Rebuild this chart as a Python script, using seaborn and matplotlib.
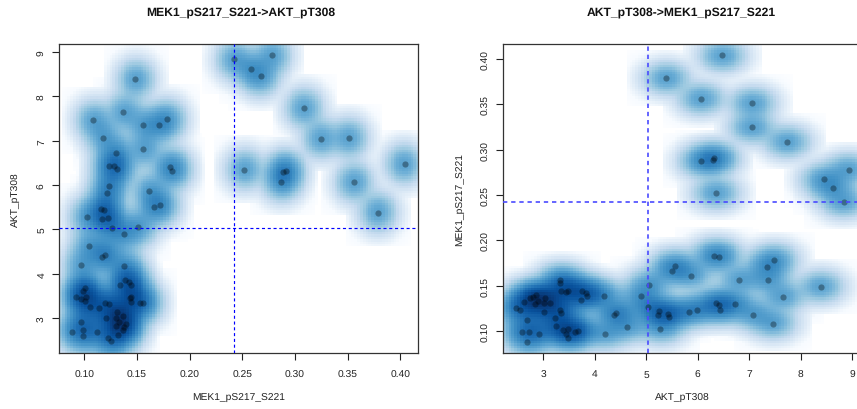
import numpy as np
import pandas as pd
import matplotlib
matplotlib.use('Agg')
import matplotlib.pyplot as plt
from matplotlib.colors import LinearSegmentedColormap
import seaborn as sns

mek = [0.2424, 0.258, 0.2674, 0.278, 0.3085, 0.3247, 0.3513, 0.404, 0.3563, 0.379,
       0.252, 0.289, 0.291, 0.287, 0.148, 0.137, 0.108, 0.156, 0.171, 0.178,
       0.118, 0.156, 0.130, 0.123, 0.128, 0.131, 0.181, 0.183, 0.123, 0.121,
       0.161, 0.166, 0.172, 0.1155, 0.119, 0.102, 0.117, 0.122, 0.1266, 0.151,
       0.138, 0.104, 0.12, 0.117, 0.0965, 0.138, 0.1386, 0.142, 0.144, 0.134,
       0.1003, 0.0985, 0.0924, 0.0965, 0.1016, 0.101, 0.105, 0.114, 0.12, 0.123,
       0.143, 0.144, 0.144, 0.153, 0.156, 0.131, 0.1205, 0.1304, 0.1367, 0.133,
       0.13, 0.1396, 0.1377, 0.1364, 0.132, 0.0965, 0.099, 0.088, 0.099, 0.112,
       0.1225, 0.125]
akt = [8.84, 8.62, 8.46, 8.93, 7.74, 7.05, 7.06, 6.47, 6.06, 5.38,
       6.35, 6.29, 6.32, 6.07, 8.39, 7.65, 7.46, 7.36, 7.35, 7.49,
       7.07, 6.81, 6.73, 6.44, 6.42, 6.36, 6.41, 6.32, 5.98, 5.82,
       5.86, 5.50, 5.55, 5.45, 5.43, 5.27, 5.23, 5.25, 5.03, 5.06,
       4.89, 4.62, 4.42, 4.38, 4.19, 4.17, 3.85, 3.82, 3.75, 3.74,
       3.67, 3.62, 3.48, 3.43, 3.48, 3.39, 3.25, 3.22, 3.34, 3.32,
       3.44, 3.47, 3.35, 3.33, 3.33, 3.13, 3.01, 3.01, 3.04, 2.90,
       2.83, 2.86, 2.79, 2.74, 2.62, 2.91, 2.73, 2.68, 2.59, 2.68,
       2.54, 2.47]

mek_ticks = [0.10, 0.15, 0.20, 0.25, 0.30, 0.35, 0.40]
akt_ticks = [3, 4, 5, 6, 7, 8, 9]
mek_lim = (0.0756, 0.4168)
akt_lim = (2.21, 9.19)
mek_cut = 0.2424
akt_cut = 5.03

sns.set_style('white')
plt.rcParams['font.family'] = ['Liberation Sans', 'DejaVu Sans']
plt.rcParams['text.hinting'] = 'none'

df = pd.DataFrame({'MEK1_pS217_S221': mek, 'AKT_pT308': akt})

blues = ['#ffffff', '#f7fbff', '#deebf7', '#c6dbef', '#9ecae1', '#6baed6',
         '#4292c6', '#2171b5', '#08519c', '#08306b']
ramp = LinearSegmentedColormap.from_list('ramp', blues, N=256)


def smooth_scatter(ax, xcol, ycol, xlim, ylim, xticks, yticks, xfmt, yfmt, xcut, ycut,
                   line_color, line_w, title_x):
    x = df[xcol].values
    y = df[ycol].values
    # same idea as R smoothScatter: bandwidth from the 5-95% range, density^0.25
    bx = np.diff(np.quantile(x, [0.05, 0.95]))[0] / 25
    by = np.diff(np.quantile(y, [0.05, 0.95]))[0] / 25
    gx = np.linspace(xlim[0], xlim[1], 128)
    gy = np.linspace(ylim[0], ylim[1], 128)
    dens = np.zeros((128, 128))
    for px, py in zip(x, y):
        kx = np.exp(-0.5 * ((gx - px) / bx) ** 2)
        ky = np.exp(-0.5 * ((gy - py) / by) ** 2)
        # bkde2D cuts the kernel off, which gives the square edges
        kx[np.abs(gx - px) > 3.4 * bx] = 0
        ky[np.abs(gy - py) > 3.4 * by] = 0
        dens += np.outer(ky, kx)
    dens = dens ** 0.25
    ax.imshow(dens, origin='lower', extent=(xlim[0], xlim[1], ylim[0], ylim[1]),
              aspect='auto', cmap=ramp, interpolation='nearest')
    sns.scatterplot(data=df, x=xcol, y=ycol, ax=ax, color='black', alpha=0.33,
                    s=20, linewidth=0, zorder=3)
    ax.axvline(xcut, color=line_color, lw=line_w, dashes=(2.6, 2.3), zorder=4)
    ax.axhline(ycut, color=line_color, lw=line_w, dashes=(2.6, 2.3), zorder=4)
    ax.set_xlim(xlim)
    ax.set_ylim(ylim)
    ax.set_xticks(xticks)
    ax.set_yticks(yticks)
    ax.set_xticklabels([xfmt % t for t in xticks])
    ax.set_yticklabels([yfmt % t for t in yticks], rotation=90, va='center')
    ax.tick_params(axis='both', length=5, width=0.8, color='#222222', labelsize=7.4,
                   labelcolor='#222222', bottom=True, left=True)
    ax.tick_params(axis='x', pad=6.7)
    ax.tick_params(axis='y', pad=3.5)
    ax.set_xlabel(xcol, fontsize=7.4, color='#222222', labelpad=10.5)
    ax.set_ylabel(ycol, fontsize=7.4, color='#222222', labelpad=12)
    ax.set_title(f'{xcol}->{ycol}', fontsize=8.7, fontweight='bold', color='#111111',
                 x=title_x, pad=21)
    for s in ax.spines.values():
        s.set_visible(True)
        s.set_color('#333333')
        s.set_linewidth(0.9)


W, H = 857, 410
fig = plt.figure(figsize=(W / 100, H / 100), dpi=100)
ax1 = fig.add_axes([58.7 / W, 1 - 354 / H, (418 - 58.7) / W, (354 - 44.7) / H])
ax2 = fig.add_axes([502.7 / W, 1 - 354 / H, (862 - 502.7) / W, (354 - 44.7) / H])

smooth_scatter(ax1, 'MEK1_pS217_S221', 'AKT_pT308', mek_lim, akt_lim,
               mek_ticks, akt_ticks, '%.2f', '%d', mek_cut, akt_cut, '#0000ff', 0.85, 0.507)
smooth_scatter(ax2, 'AKT_pT308', 'MEK1_pS217_S221', akt_lim, mek_lim,
               akt_ticks, mek_ticks, '%d', '%.2f', akt_cut, mek_cut, '#4a4aff', 1.2, 0.497)

fig.savefig('out.png', dpi=100)
